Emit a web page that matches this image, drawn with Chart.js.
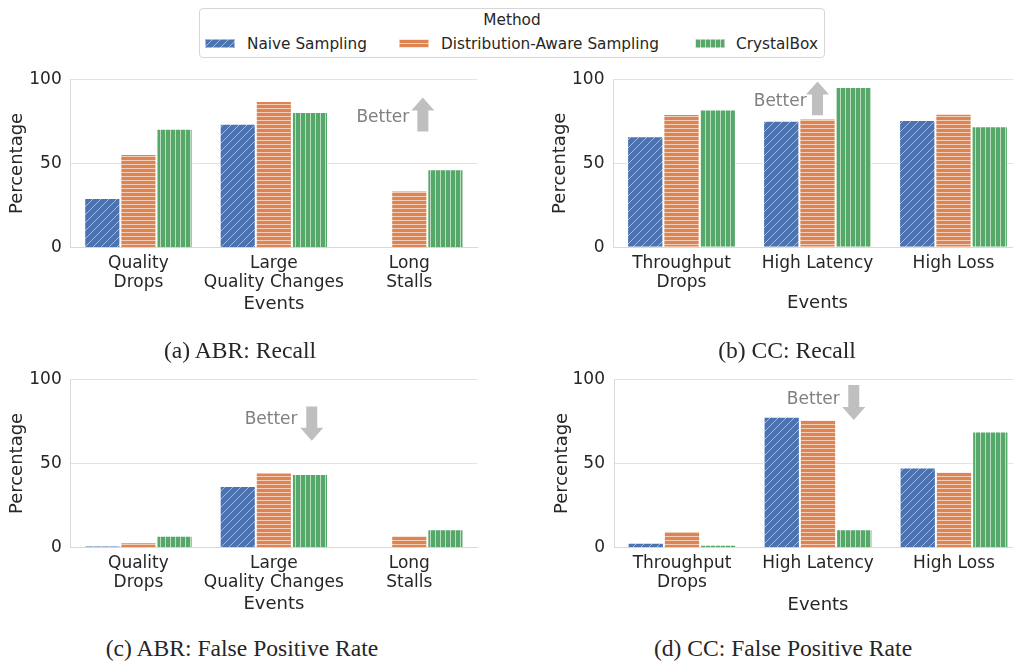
<!DOCTYPE html>
<html><head><meta charset="utf-8">
<script src="https://cdn.jsdelivr.net/npm/chart.js@4.4.0/dist/chart.umd.min.js"></script>
<style>
html,body{margin:0;padding:0;background:#fff;overflow:hidden;width:1013px;height:661px}
body{position:relative;font-family:"DejaVu Sans",sans-serif;color:#262626}
canvas.c{position:absolute}
#legend{position:absolute;left:199px;top:8px;width:626px;height:50px;border:1px solid #d6d6d6;border-radius:4px;box-sizing:border-box;background:#fff}
#legend .t{position:absolute;top:4px;left:0;right:0;text-align:center;font-size:15.3px;line-height:15px}
#legend .it{position:absolute;top:28px;font-size:15.3px;line-height:15px;white-space:nowrap}
#legend canvas{position:absolute;top:30px}
.cap{position:absolute;font-family:"Liberation Serif",serif;font-size:23.6px;line-height:23.6px;white-space:nowrap;transform:translateX(-50%)}
</style></head>
<body>
<div id="legend">
  <div class="t">Method</div>
  <canvas id="sw0" width="30" height="9" style="left:5px"></canvas><span class="it" style="left:47px">Naive Sampling</span>
  <canvas id="sw1" width="30" height="9" style="left:199px"></canvas><span class="it" style="left:241px">Distribution-Aware Sampling</span>
  <canvas id="sw2" width="30" height="9" style="left:495px"></canvas><span class="it" style="left:536px">CrystalBox</span>
</div>
<canvas class="c" id="abrRecall" width="490" height="260" style="left:0;top:60px"></canvas>
<canvas class="c" id="ccRecall" width="490" height="260" style="left:540px;top:60px"></canvas>
<canvas class="c" id="abrFpr" width="490" height="260" style="left:0;top:360px"></canvas>
<canvas class="c" id="ccFpr" width="490" height="260" style="left:540px;top:360px"></canvas>
<div class="cap" style="left:240px;top:339px">(a) ABR: Recall</div>
<div class="cap" style="left:787px;top:339px">(b) CC: Recall</div>
<div class="cap" style="left:242px;top:637px">(c) ABR: False Positive Rate</div>
<div class="cap" style="left:783px;top:637px">(d) CC: False Positive Rate</div>
<script>
// ---- data ----
const abrEvents = [["Quality", "Drops"], ["Large", "Quality Changes"], ["Long", "Stalls"]];
const ccEvents = [["Throughput", "Drops"], "High Latency", "High Loss"];
const methods = ["Naive Sampling", "Distribution-Aware Sampling", "CrystalBox"];
const yTicks = [0, 50, 100];

const abrRecallNaive = [29.5, 73.5, 0];
const abrRecallDist = [55.6, 87, 34];
const abrRecallCrystal = [70.6, 80.6, 46.5];

const ccRecallNaive = [66, 75.3, 75.7];
const ccRecallDist = [79.3, 76.6, 79.4];
const ccRecallCrystal = [82, 95.3, 72];

const abrFprNaive = [1, 36.6, 0];
const abrFprDist = [3.2, 44.6, 7.3];
const abrFprCrystal = [7.1, 43.8, 10.9];

const ccFprNaive = [3, 77.7, 47.6];
const ccFprDist = [9.9, 76, 45.1];
const ccFprCrystal = [1.8, 11, 69];

// ---- styles ----
const colors = ["#4c72b0", "#dd8452", "#55a868"];
const hatches = ["diag", "horiz", "vert"];
const ink = "#262626";
Chart.defaults.font.family = "'DejaVu Sans', sans-serif";
Chart.defaults.color = ink;

function hatch(ctx, color, kind){
  const s = kind === "diag" ? 8 : kind === "horiz" ? 4 : 5;
  const c = document.createElement("canvas"); c.width = s; c.height = s;
  const g = c.getContext("2d");
  g.fillStyle = color; g.fillRect(0, 0, s, s);
  g.strokeStyle = kind === "diag" ? "rgba(255,255,255,0.5)" : "rgba(255,255,255,0.6)"; g.lineWidth = 1;
  g.beginPath();
  if (kind === "diag"){ g.moveTo(-1, s+1); g.lineTo(s+1, -1); g.moveTo(-1, 1); g.lineTo(1, -1); g.moveTo(s-1, s+1); g.lineTo(s+1, s-1); }
  else if (kind === "horiz"){ g.moveTo(0, 0.5); g.lineTo(s, 0.5); }
  else { g.moveTo(0.5, 0); g.lineTo(0.5, s); }
  g.stroke();
  return ctx.createPattern(c, "repeat");
}

// legend swatches
[0,1,2].forEach(i => {
  const cv = document.getElementById("sw" + i), g = cv.getContext("2d");
  g.fillStyle = hatch(g, colors[i], hatches[i]); g.fillRect(0, 0, cv.width, cv.height);
  g.strokeStyle = "rgba(255,255,255,0.5)"; g.strokeRect(0.5, 0.5, cv.width-1, cv.height-1);
});

// "Better" arrow, placed in data coordinates
const better = {
  id: "better",
  afterDatasetsDraw(chart, args, o){
    const {ctx, scales: {x, y}} = chart;
    const ax = x.getPixelForValue(o.x), y0 = y.getPixelForValue(o.tail), y1 = y.getPixelForValue(o.tip);
    const d = Math.sign(y1 - y0), hl = 13, hw = 11.5, sw = 5.5, yb = y1 - d*hl;
    ctx.save();
    ctx.beginPath();
    ctx.moveTo(ax-sw, y0); ctx.lineTo(ax-sw, yb); ctx.lineTo(ax-hw, yb); ctx.lineTo(ax, y1);
    ctx.lineTo(ax+hw, yb); ctx.lineTo(ax+sw, yb); ctx.lineTo(ax+sw, y0); ctx.closePath();
    ctx.fillStyle = "#bfbfbf"; ctx.fill();
    ctx.font = "17px 'DejaVu Sans'"; ctx.fillStyle = "#808080";
    ctx.textAlign = "right"; ctx.textBaseline = "middle";
    ctx.fillText("Better", x.getPixelForValue(o.tx), y.getPixelForValue(o.ty));
    ctx.restore();
  }
};

function makeChart(id, labels, series, lay, note){
  const cv = document.getElementById(id), ctx = cv.getContext("2d");
  return new Chart(cv, {
    type: "bar",
    data: {labels, datasets: series.map((d, i) => ({
      label: methods[i], data: d,
      backgroundColor: hatch(ctx, colors[i], hatches[i]),
      borderColor: "rgba(255,255,255,0.5)", borderWidth: 1,
      categoryPercentage: 0.8, barPercentage: 1
    }))},
    options: {
      responsive: false, animation: false, devicePixelRatio: 1,
      layout: {padding: {top: lay.pt, right: lay.pr, bottom: 0, left: 0}},
      plugins: {legend: {display: false}, tooltip: {enabled: false}, better: note},
      scales: {
        x: {
          grid: {display: false, drawTicks: false},
          border: {display: true, color: "#d9d9d9"},
          ticks: {font: {size: 17, lineHeight: 1.13}, padding: 6.4, color: ink, maxRotation: 0, autoSkip: false},
          title: {display: true, text: "Events", font: {size: 18, lineHeight: 1.2}, color: ink, padding: {top: 0, bottom: lay.xtp}},
          afterFit: s => { s.height = lay.xh; }
        },
        y: {
          min: 0, max: 100,
          afterBuildTicks: s => { s.ticks = yTicks.map(v => ({value: v})); },
          grid: {color: "#e3e3e3", drawTicks: false},
          border: {display: true, color: "#d9d9d9"},
          ticks: {font: {size: 17}, padding: 9, color: ink},
          title: {display: true, text: "Percentage", font: {size: 18, lineHeight: 1.2}, color: ink, padding: {top: lay.ytp, bottom: 0}},
          afterFit: s => { s.width = lay.yw; }
        }
      }
    },
    plugins: [better]
  });
}

makeChart("abrRecall", abrEvents, [abrRecallNaive, abrRecallDist, abrRecallCrystal],
  {pt: 18.5, pr: 13, yw: 70.7, xh: 72.3, ytp: 6.7, xtp: 5.2},
  {x: 2.10, tail: 69, tip: 89.2, tx: 2.0, ty: 77});
makeChart("ccRecall", ccEvents, [ccRecallNaive, ccRecallDist, ccRecallCrystal],
  {pt: 16, pr: 8.5, yw: 73.5, xh: 72.7, ytp: 10, xtp: 5.9},
  {x: 1.0, tail: 78.6, tip: 98.7, tx: 0.92, ty: 86.4});
makeChart("abrFpr", abrEvents, [abrFprNaive, abrFprDist, abrFprCrystal],
  {pt: 18.3, pr: 13, yw: 70.7, xh: 72.3, ytp: 6.7, xtp: 5.2},
  {x: 1.28, tail: 83.8, tip: 63.4, tx: 1.175, ty: 75.8});
makeChart("ccFpr", ccEvents, [ccFprNaive, ccFprDist, ccFprCrystal],
  {pt: 18.3, pr: 8, yw: 74, xh: 72.3, ytp: 11.2, xtp: 4.2},
  {x: 1.263, tail: 96.5, tip: 75.8, tx: 1.16, ty: 88.2});
</script>
</body></html>
